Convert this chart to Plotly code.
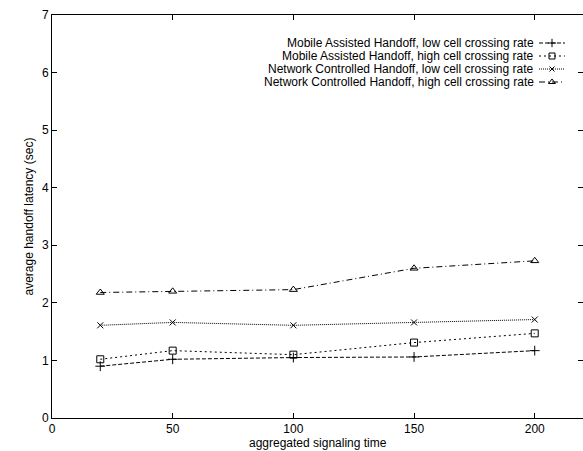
import plotly.graph_objects as go

x_vals = [20, 50, 100, 150, 200]
ma_low = [0.90, 1.02, 1.05, 1.06, 1.17]
ma_high = [1.02, 1.17, 1.10, 1.31, 1.47]
nc_low = [1.61, 1.66, 1.61, 1.66, 1.71]
nc_high = [2.18, 2.20, 2.23, 2.60, 2.73]

names = [
    "Mobile Assisted Handoff, low cell crossing rate",
    "Mobile Assisted Handoff, high cell crossing rate",
    "Network Controlled Handoff, low cell crossing rate",
    "Network Controlled Handoff, high cell crossing rate",
]
series = [ma_low, ma_high, nc_low, nc_high]
symbols = ["cross-thin", "square-open", "x-thin", "triangle-up-open"]
dashes = ["4px,2px", "2px,3px", "1px,1px", "6px,3px,1px,3px"]
sizes = [7, 7, 6, 7]

FONT = "Liberation Sans, Arial, Helvetica, sans-serif"
FS = 12
W, H = 583, 451
L, R, T, B = 52, 0, 15, 33
PH = H - T - B
PW = W - L - R


def py(px):
    return (H - B - px) / PH


def pxr(px):
    return (px - L) / PW


fig = go.Figure()
for name, ys, sym, dash, sz in zip(names, series, symbols, dashes, sizes):
    fig.add_trace(go.Scatter(
        x=x_vals, y=ys, mode="lines+markers", name=name,
        line=dict(color="black", width=1, dash=dash),
        marker=dict(symbol=sym, size=sz, color="black",
                    line=dict(color="black", width=1)),
        showlegend=False,
    ))

# legend keys drawn on an overlay axis in [0,1]
row_px = [43, 56, 69, 82]
key_x0, key_x1 = pxr(539), pxr(565)
for name, sym, dash, sz, rp in zip(names, symbols, dashes, sizes, row_px):
    ry = py(rp)
    fig.add_trace(go.Scatter(
        x=[key_x0, key_x1], y=[ry, ry], mode="lines", xaxis="x2", yaxis="y2",
        line=dict(color="black", width=1, dash=dash), showlegend=False,
        hoverinfo="skip",
    ))
    fig.add_trace(go.Scatter(
        x=[(key_x0 + key_x1) / 2], y=[ry], mode="markers", xaxis="x2", yaxis="y2",
        marker=dict(symbol=sym, size=sz - 1, color="black",
                    line=dict(color="black", width=1)),
        showlegend=False, hoverinfo="skip",
    ))
    fig.add_annotation(
        xref="paper", yref="paper", x=pxr(536), y=ry, text=name,
        showarrow=False, xanchor="right", yanchor="middle",
        font=dict(family=FONT, size=FS, color="black"),
    )

fig.add_annotation(
    xref="paper", yref="paper", x=0.5, y=py(443), text="aggregated signaling time",
    showarrow=False, xanchor="center", yanchor="middle",
    font=dict(family=FONT, size=FS, color="black"),
)
fig.add_annotation(
    xref="paper", yref="paper", x=pxr(28), y=0.5, text="average handoff latency (sec)",
    showarrow=False, xanchor="center", yanchor="middle", textangle=-90,
    font=dict(family=FONT, size=FS, color="black"),
)

axis_common = dict(
    showgrid=False, zeroline=False, showline=True, linecolor="black", linewidth=1,
    mirror="ticks", ticks="inside", ticklen=5, tickcolor="black", tickwidth=1,
    tickfont=dict(family=FONT, size=FS, color="black"),
)

fig.update_layout(
    width=W, height=H,
    margin=dict(l=L, r=R, t=T, b=B, autoexpand=False),
    paper_bgcolor="white", plot_bgcolor="white",
    xaxis=dict(range=[0, 220], tickvals=[0, 50, 100, 150, 200],
               ticklabelstandoff=0, **axis_common),
    yaxis=dict(range=[0, 7], tickvals=[0, 1, 2, 3, 4, 5, 6, 7], **axis_common),
    xaxis2=dict(range=[0, 1], overlaying="x", visible=False),
    yaxis2=dict(range=[0, 1], overlaying="y", visible=False),
    showlegend=False,
)

fig.write_html("out.html", config={"displayModeBar": False},
               post_script="document.body.style.margin='0px';")
